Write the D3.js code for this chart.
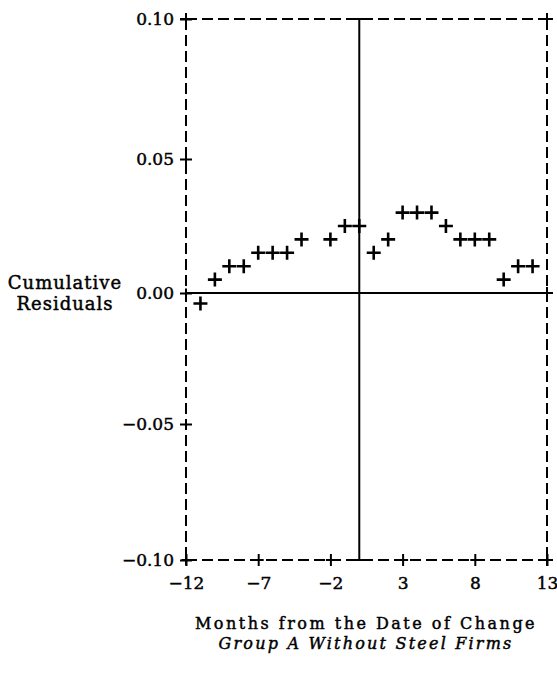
<!DOCTYPE html>
<html>
<head>
<meta charset="utf-8">
<script src="https://cdn.jsdelivr.net/npm/d3@7"></script>
<style>
  html, body { margin: 0; padding: 0; background: #fff; }
  svg { display: block; }
</style>
</head>
<body>
<svg id="chart"></svg>
<script>
// data (month -3 has no mark)
const months = [-11, -10, -9, -8, -7, -6, -5, -4, -3, -2, -1, 0, 1, 2, 3, 4, 5, 6, 7, 8, 9, 10, 11, 12];
const residuals = [-0.004, 0.005, 0.010, 0.010, 0.015, 0.015, 0.015, 0.020, null, 0.020, 0.025, 0.025,
                   0.015, 0.020, 0.030, 0.030, 0.030, 0.025, 0.020, 0.020, 0.020, 0.005, 0.010, 0.010];
const xTicks = [-12, -7, -2, 3, 8, 13];
const yTicks = [-0.10, -0.05, 0.00, 0.05, 0.10];
const rightTicks = [-0.10, 0.00, 0.10];
const yTitle = ['Cumulative', 'Residuals'];
const xTitle = 'Months from the Date of Change';
const subTitle = 'Group A Without Steel Firms';

const width = 557;
const height = 673;

const svg = d3.select('#chart')
  .attr('width', width)
  .attr('height', height);

const x = d3.scaleLinear().domain([-12, 13]).range([186, 547]);
// the scan is slightly uneven vertically, so pin each labelled level
const y = d3.scaleLinear()
  .domain([-0.10, -0.05, 0, 0.05, 0.10])
  .range([560, 424, 293, 159, 19]);

const font = '"DejaVu Serif", serif';
const fmt = d => (d < 0 ? '\u2212' : '') + Math.abs(d).toFixed(2);

// thicken text a little, the scan prints heavy
const heavy = sel => sel.attr('stroke', '#000').attr('stroke-width', 0.45).attr('fill', '#000');

// dashed frame
const frame = svg.append('g')
  .attr('stroke', '#000')
  .attr('stroke-width', 2)
  .attr('stroke-dasharray', '11,5')
  .attr('fill', 'none');

frame.append('line')
  .attr('x1', x(-12)).attr('x2', x(13))
  .attr('y1', y(0.10)).attr('y2', y(0.10));
frame.append('line')
  .attr('x1', x(-12)).attr('x2', x(13))
  .attr('y1', y(-0.10)).attr('y2', y(-0.10));
frame.append('line')
  .attr('x1', x(-12)).attr('x2', x(-12))
  .attr('y1', y(0.10)).attr('y2', y(-0.10));
frame.append('line')
  .attr('x1', x(13)).attr('x2', x(13))
  .attr('y1', y(0.10)).attr('y2', y(-0.10));

// solid reference lines at zero
svg.append('line')
  .attr('x1', x(0)).attr('x2', x(0))
  .attr('y1', y(0.10)).attr('y2', y(-0.10))
  .attr('stroke', '#000').attr('stroke-width', 2);
svg.append('line')
  .attr('x1', x(-12)).attr('x2', x(13))
  .attr('y1', y(0)).attr('y2', y(0))
  .attr('stroke', '#000').attr('stroke-width', 2);
// little solid caps where the zero line meets the frame
[0.10, -0.10].forEach(v => {
  svg.append('line')
    .attr('x1', x(0) - 6).attr('x2', x(0) + 6)
    .attr('y1', y(v)).attr('y2', y(v))
    .attr('stroke', '#000').attr('stroke-width', 2);
});

// left axis: labels from d3, ticks drawn as crosses
const yAxis = svg.append('g')
  .attr('transform', `translate(${x(-12)},0)`)
  .call(d3.axisLeft(y).tickValues(yTicks).tickFormat(fmt).tickSize(6).tickPadding(6));
yAxis.select('.domain').remove();
yAxis.selectAll('.tick line')
  .attr('x1', -6).attr('x2', 6)
  .attr('stroke', '#000').attr('stroke-width', 2);
yAxis.selectAll('.tick text')
  .attr('font-family', font)
  .attr('font-size', 17)
  .call(heavy);
yAxis.selectAll('.tick')
  .append('line')
  .attr('y1', -5).attr('y2', 5)
  .attr('stroke', '#000').attr('stroke-width', 2);

// bottom axis
const xAxis = svg.append('g')
  .attr('transform', `translate(0,${y(-0.10)})`)
  .call(d3.axisBottom(x).tickValues(xTicks).tickFormat(d => (d < 0 ? '\u2212' : '') + Math.abs(d)).tickSize(6).tickPadding(11));
xAxis.select('.domain').remove();
xAxis.selectAll('.tick line')
  .attr('y1', -6).attr('y2', 6)
  .attr('stroke', '#000').attr('stroke-width', 2);
xAxis.selectAll('.tick')
  .append('line')
  .attr('x1', -5).attr('x2', 5)
  .attr('stroke', '#000').attr('stroke-width', 2);
xAxis.selectAll('.tick text')
  .attr('font-family', font)
  .attr('font-size', 17)
  .call(heavy);

// right side crosses
svg.append('g')
  .selectAll('path')
  .data(rightTicks)
  .join('path')
    .attr('d', d => `M${x(13) - 6},${y(d)}H${x(13) + 6}M${x(13)},${y(d) - 6}V${y(d) + 6}`)
    .attr('stroke', '#000').attr('stroke-width', 2);
// top left corner cross
svg.append('path')
  .attr('d', `M${x(-12) - 6},${y(0.10)}H${x(-12) + 6}M${x(-12)},${y(0.10) - 6}V${y(0.10) + 6}`)
  .attr('stroke', '#000').attr('stroke-width', 2);

// plus markers
const pts = months
  .map((m, i) => ({ m, v: residuals[i] }))
  .filter(d => d.v !== null);

svg.append('g')
  .attr('stroke', '#000')
  .attr('stroke-width', 2.6)
  .attr('fill', 'none')
  .selectAll('path')
  .data(pts)
  .join('path')
    .attr('d', d => {
      const cx = x(d.m), cy = y(d.v);
      return `M${cx - 7},${cy}H${cx + 7}M${cx},${cy - 7}V${cy + 7}`;
    });

// y title
svg.append('text')
  .attr('font-family', font)
  .attr('font-size', 18)
  .attr('letter-spacing', 1)
  .attr('text-anchor', 'middle')
  .call(heavy)
  .selectAll('tspan')
  .data(yTitle)
  .join('tspan')
    .attr('x', 65)
    .attr('y', (d, i) => 289 + i * 21)
    .text(d => d);

// x title and caption
svg.append('text')
  .attr('x', 366).attr('y', 629)
  .attr('font-family', font)
  .attr('font-size', 16)
  .attr('letter-spacing', 2.5)
  .attr('text-anchor', 'middle')
  .call(heavy)
  .text(xTitle);
svg.append('text')
  .attr('x', 366).attr('y', 649)
  .attr('font-family', font)
  .attr('font-size', 16)
  .attr('font-style', 'italic')
  .attr('letter-spacing', 2.2)
  .attr('text-anchor', 'middle')
  .call(heavy)
  .text(subTitle);
</script>
</body>
</html>
